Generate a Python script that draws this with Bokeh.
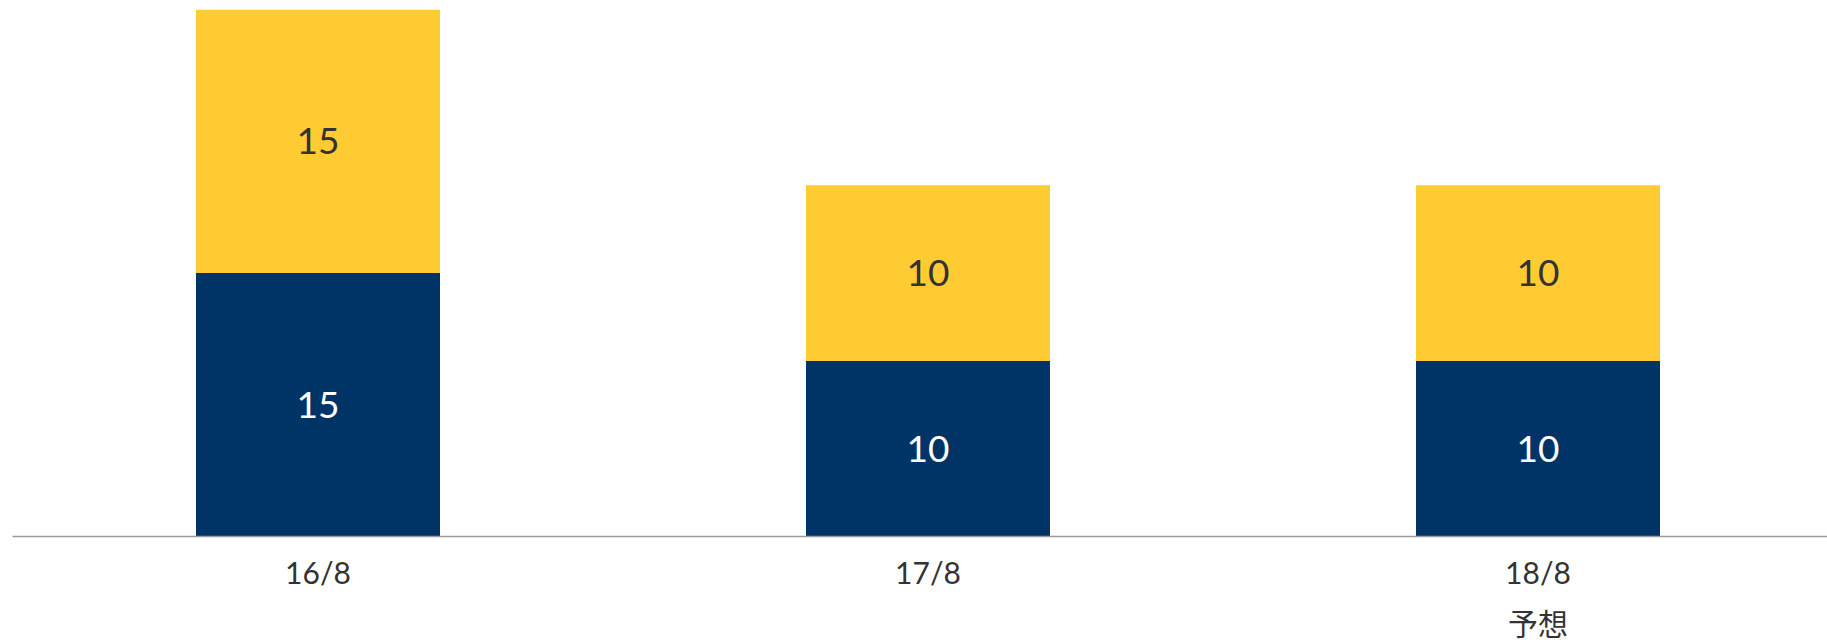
from bokeh.plotting import figure
from bokeh.models import ColumnDataSource, Range1d, FixedTicker
from bokeh.core.properties import value
from bokeh.embed import file_html
from bokeh.resources import INLINE

# ---- data ----
categories = ["16/8", "17/8", "18/8\n予想"]
lower_values = [15, 10, 10]   # navy segment
upper_values = [15, 10, 10]   # yellow segment
lower_labels = ["15", "10", "10"]
upper_labels = ["15", "10", "10"]

NAVY = "#003466"
YELLOW = "#FFCB32"
FONT = "Lato, 'Noto Sans CJK JP', sans-serif"

xs = list(range(len(categories)))
tops = [a + b for a, b in zip(lower_values, upper_values)]
src = ColumnDataSource(dict(
    x=xs,
    lower=lower_values,
    upper=upper_values,
    top=tops,
    lower_mid=[v / 2 for v in lower_values],
    upper_mid=[a + b / 2 for a, b in zip(lower_values, upper_values)],
    lower_lab=lower_labels,
    upper_lab=upper_labels,
))

p = figure(
    frame_width=1815, frame_height=528,
    x_range=Range1d(-0.5008, 2.4746), y_range=Range1d(0, 30.07),
    output_backend="svg", toolbar_location=None,
    min_border_left=12, min_border_right=0, min_border_top=8, min_border_bottom=0,
    outline_line_color=None, background_fill_color="white",
)

p.vbar(x="x", width=0.4, bottom=0, top="lower", source=src,
       fill_color=NAVY, line_color=None)
p.vbar(x="x", width=0.4, bottom="lower", top="top", source=src,
       fill_color=YELLOW, line_color=None)

p.text(x="x", y="lower_mid", text="lower_lab", source=src,
       text_align="center", text_baseline="middle",
       text_color="white", text_font_size="37px", text_font=value(FONT))
p.text(x="x", y="upper_mid", text="upper_lab", source=src,
       text_align="center", text_baseline="middle",
       text_color="#333333", text_font_size="37px", text_font=value(FONT))

p.yaxis.visible = False
p.xgrid.visible = False
p.ygrid.visible = False

ax = p.xaxis[0]
ax.ticker = FixedTicker(ticks=xs)
ax.major_label_overrides = {i: c for i, c in zip(xs, categories)}
ax.major_tick_line_color = None
ax.minor_tick_line_color = None
ax.major_tick_out = 0
ax.major_tick_in = 0
ax.axis_line_color = "#9a9a9a"
ax.axis_line_width = 1.5
ax.major_label_standoff = 17
ax.major_label_text_font = FONT
ax.major_label_text_font_size = "30px"
ax.major_label_text_color = "#333333"
ax.major_label_text_line_height = 1.42

open("out.html", "w").write(file_html(p, INLINE))
